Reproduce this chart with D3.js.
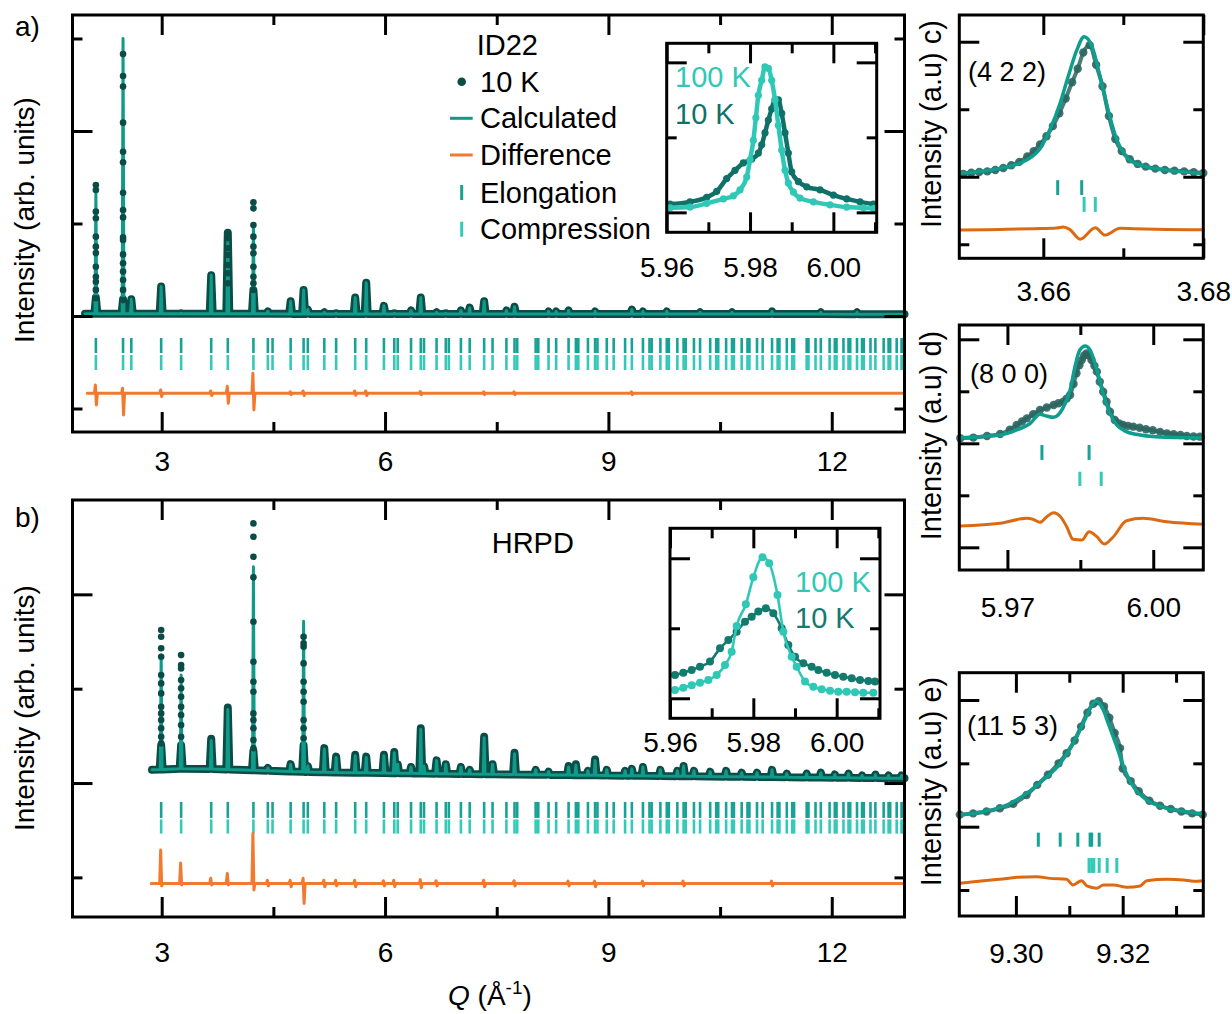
<!DOCTYPE html>
<html>
<head>
<meta charset="utf-8">
<script src="https://cdn.jsdelivr.net/npm/d3@7"></script>
<style>
  body { margin: 0; background: #fff; }
</style>
</head>
<body>
<svg id="fig" width="1232" height="1014"></svg>
<script>
const F = "'Liberation Sans', Arial, Helvetica, sans-serif";
const col = {
  obs: "#0b4d46", calc: "#0f9a89", diff: "#f07a30", diff2: "#dc6a12",
  elong: "#17a394", comp: "#36c9b7", hot: "#2fc8b6", cold: "#0f7168", dotS: "#2c6560"
};

// ---------- data ----------
// reflection positions (Q, 1/Å) – used for both tick rows in a) and b)
const reflQ = [2.116, 2.481, 2.592, 2.993, 3.261, 3.665, 3.888, 4.232, 4.426, 4.489, 4.732, 4.906, 4.963,
  5.184, 5.343, 5.599, 5.747, 5.985, 6.124, 6.170, 6.349, 6.480, 6.523, 6.692, 6.816, 6.857, 7.019, 7.137,
  7.331, 7.444, 7.630, 7.739, 7.775, 8.023, 8.058, 8.196, 8.298, 8.465, 8.563, 8.596, 8.725, 8.821, 8.853,
  8.978, 9.071, 9.224, 9.315, 9.464, 9.552, 9.581, 9.698, 9.784, 9.812, 9.926, 10.010, 10.038, 10.149,
  10.231, 10.367, 10.448, 10.475, 10.581, 10.660, 10.686, 10.790, 10.868, 10.894, 10.996, 11.072, 11.198,
  11.273, 11.297, 11.396, 11.469, 11.494, 11.663, 11.687, 11.782, 11.853, 11.971, 12.041, 12.064, 12.157,
  12.225, 12.248, 12.339, 12.407, 12.430, 12.520, 12.586, 12.697, 12.763, 12.785, 12.872, 12.937, 12.959];

// a) ID22, 10 K
const rangeA = [1.97, 12.977];
const bgAQ = [1.97, 12.977], bgAV = [0.012, 0.010];
const peakQA = [2.116, 2.481, 2.592, 2.993, 3.261, 3.665, 3.888, 4.232, 4.426, 4.732, 4.906, 4.963, 5.184,
  5.343, 5.599, 5.747, 5.985, 6.124, 6.349, 6.480, 6.692, 6.816, 7.019, 7.137, 7.331, 7.630, 7.739, 8.196,
  8.298, 8.465, 8.821, 9.315, 9.464, 9.784, 10.231, 10.660, 11.198, 11.853, 12.339];
const calcTopA = [0.67, 1.50, 0.09, 0.16, 0.015, 0.22, 0.44, 0.50, 0.025, 0.08, 0.14, 0.035, 0.02,
  0.015, 0.10, 0.18, 0.055, 0.015, 0.03, 0.10, 0.02, 0.015, 0.03, 0.045, 0.08, 0.03, 0.05, 0.025,
  0.025, 0.03, 0.025, 0.035, 0.025, 0.025, 0.02, 0.02, 0.025, 0.02, 0.02];
const obsTopA = [0.10, 0.09, 0.09, 0.16, 0.015, 0.22, 0.45, 0.14, 0.025, 0.08, 0.14, 0.035, 0.02,
  0.015, 0.10, 0.18, 0.055, 0.015, 0.03, 0.10, 0.02, 0.015, 0.03, 0.045, 0.08, 0.03, 0.05, 0.025,
  0.025, 0.03, 0.025, 0.035, 0.025, 0.025, 0.02, 0.02, 0.025, 0.02, 0.02];
const dotQA = [2.116, 2.481, 3.888, 4.232];
const dotVA = [
  [0.708, 0.681, 0.564, 0.528, 0.429, 0.375, 0.34, 0.266, 0.212, 0.185, 0.141, 0.096],
  [1.416, 1.297, 1.24, 1.045, 0.888, 0.831, 0.666, 0.573, 0.533, 0.425, 0.411, 0.333, 0.285, 0.24, 0.195, 0.141, 0.086],
  [0.447, 0.42, 0.366, 0.33, 0.276, 0.231, 0.177],
  [0.615, 0.582, 0.492, 0.429, 0.375, 0.339, 0.266, 0.212, 0.177, 0.141]];
const diffBaseA = -0.418;
const diffQA = [2.116, 2.481, 2.993, 3.665, 3.888, 4.232, 4.732, 4.906, 5.599, 5.747, 6.480, 7.331, 7.739, 9.315];
const diffUpA = [-0.373, -0.39, -0.40, -0.405, -0.38, -0.31, -0.41, -0.405, -0.405, -0.405, -0.408, -0.41, -0.41, -0.41];
const diffDnA = [-0.481, -0.535, -0.435, -0.43, -0.472, -0.508, -0.425, -0.43, -0.428, -0.43, -0.426, -0.425, -0.425, -0.425];

// b) HRPD
const rangeB = [2.87, 12.977];
const bgBQ = [2.87, 3.4, 5.0, 7.0, 8.5, 10.8, 12.977];
const bgBV = [0.07, 0.078, 0.058, 0.048, 0.042, 0.033, 0.025];
const peakQB = [2.993, 3.261, 3.665, 3.888, 4.232, 4.426, 4.732, 4.906, 4.963, 5.184, 5.343, 5.599, 5.747,
  5.985, 6.124, 6.170, 6.349, 6.480, 6.523, 6.692, 6.816, 7.019, 7.137, 7.331, 7.444, 7.739, 8.023, 8.196,
  8.465, 8.563, 8.725, 8.821, 8.978, 9.224, 9.315, 9.464, 9.698, 9.926, 10.010, 10.149, 10.367, 10.581,
  10.790, 10.996, 11.198, 11.396, 11.663, 11.853, 12.041, 12.225, 12.407, 12.586, 12.763, 12.937];
const calcTopB = [0.678, 0.572, 0.225, 0.39, 1.146, 0.08, 0.10, 0.858, 0.09, 0.18, 0.135, 0.145, 0.135,
  0.145, 0.16, 0.10, 0.085, 0.285, 0.09, 0.12, 0.10, 0.085, 0.07, 0.24, 0.10, 0.155, 0.07, 0.06,
  0.085, 0.095, 0.065, 0.12, 0.07, 0.065, 0.075, 0.085, 0.07, 0.065, 0.09, 0.065, 0.06, 0.065,
  0.055, 0.055, 0.07, 0.05, 0.05, 0.055, 0.045, 0.05, 0.04, 0.045, 0.04, 0.04];
const obsTopB = [0.20, 0.20, 0.235, 0.40, 0.17, 0.08, 0.10, 0.20, 0.09, 0.185, 0.14, 0.15, 0.14,
  0.15, 0.165, 0.10, 0.085, 0.29, 0.09, 0.12, 0.10, 0.085, 0.07, 0.245, 0.10, 0.16, 0.07, 0.06,
  0.09, 0.10, 0.065, 0.125, 0.07, 0.065, 0.075, 0.085, 0.07, 0.065, 0.09, 0.065, 0.06, 0.065,
  0.055, 0.055, 0.07, 0.05, 0.05, 0.055, 0.045, 0.05, 0.04, 0.045, 0.04, 0.04];
const dotQB = [2.993, 3.261, 4.232, 4.906];
const dotVB = [
  [0.811, 0.775, 0.714, 0.669, 0.572, 0.528, 0.475, 0.404, 0.369, 0.334, 0.29, 0.245, 0.21],
  [0.678, 0.625, 0.607, 0.546, 0.502, 0.457, 0.404, 0.36, 0.307, 0.245],
  [1.376, 1.305, 1.199, 1.09, 0.855, 0.643, 0.537, 0.484, 0.369, 0.334, 0.29, 0.228, 0.184],
  [0.775, 0.74, 0.722, 0.634, 0.537, 0.484, 0.431, 0.334, 0.29, 0.237]];
const diffBaseB = -0.532;
const diffQB = [2.993, 3.261, 3.665, 3.888, 4.232, 4.426, 4.732, 4.906, 5.184, 5.343, 5.599, 5.985, 6.124,
  6.480, 6.692, 7.331, 7.739, 8.465, 8.821, 9.464, 10.010, 11.198];
const diffUpB = [-0.355, -0.424, -0.505, -0.479, -0.267, -0.515, -0.515, -0.505, -0.515, -0.515, -0.515,
  -0.518, -0.515, -0.512, -0.518, -0.515, -0.518, -0.52, -0.52, -0.52, -0.52, -0.52];
const diffDnB = [-0.545, -0.54, -0.54, -0.54, -0.567, -0.545, -0.55, -0.638, -0.55, -0.545, -0.55,
  -0.545, -0.548, -0.555, -0.545, -0.55, -0.545, -0.545, -0.55, -0.545, -0.545, -0.545];

// insets: (8 0 0) at 100 K and 10 K
const aHotQ = [5.9608, 5.9656, 5.9696, 5.9736, 5.9760, 5.9776, 5.9792, 5.9800, 5.9808, 5.9814, 5.9820, 5.9828,
  5.9836, 5.9844, 5.9852, 5.9860, 5.9868, 5.9876, 5.9884, 5.9892, 5.9904, 5.9920, 5.9952, 5.9992, 6.0032, 6.0072, 6.0096];
const aHotV = [0.03, 0.035, 0.06, 0.09, 0.11, 0.15, 0.235, 0.35, 0.48, 0.63, 0.78, 0.88,
  0.97, 0.96, 0.88, 0.75, 0.58, 0.415, 0.28, 0.195, 0.135, 0.095, 0.07, 0.05, 0.035, 0.03, 0.025];
const aColdQ = [5.9608, 5.9656, 5.9696, 5.9720, 5.9744, 5.9764, 5.9784, 5.9804, 5.9820, 5.9828, 5.9836, 5.9844,
  5.9852, 5.9860, 5.9868, 5.9876, 5.9884, 5.9892, 5.9900, 5.9916, 5.9936, 5.9968, 6.0000, 6.0032, 6.0064, 6.0096];
const aColdV = [0.055, 0.07, 0.10, 0.14, 0.225, 0.28, 0.33, 0.355, 0.395, 0.45, 0.53, 0.615,
  0.69, 0.75, 0.75, 0.66, 0.53, 0.395, 0.27, 0.205, 0.17, 0.15, 0.115, 0.09, 0.07, 0.055];
const bHotQ = [5.9612, 5.9632, 5.9652, 5.9672, 5.9692, 5.9712, 5.9732, 5.9748, 5.9760, 5.9782, 5.9800, 5.9822,
  5.9838, 5.9858, 5.9872, 5.9892, 5.9904, 5.9924, 5.9944, 5.9964, 5.9984, 6.0004, 6.0024, 6.0044, 6.0064, 6.0088];
const bHotV = [0.059, 0.076, 0.093, 0.111, 0.131, 0.166, 0.238, 0.333, 0.516, 0.671, 0.864, 1.007,
  0.964, 0.738, 0.476, 0.297, 0.226, 0.119, 0.083, 0.064, 0.054, 0.047, 0.047, 0.043, 0.04, 0.04];
const bColdQ = [5.9612, 5.9632, 5.9652, 5.9672, 5.9696, 5.9720, 5.9740, 5.9760, 5.9780, 5.9796, 5.9812, 5.9830,
  5.9848, 5.9868, 5.9884, 5.9900, 5.9920, 5.9940, 5.9956, 5.9976, 5.9996, 6.0016, 6.0036, 6.0056, 6.0076, 6.0092];
const bColdV = [0.166, 0.183, 0.202, 0.226, 0.262, 0.357, 0.416, 0.476, 0.547, 0.583, 0.619, 0.643,
  0.607, 0.50, 0.381, 0.297, 0.25, 0.226, 0.202, 0.183, 0.166, 0.154, 0.143, 0.131, 0.124, 0.119];

// c) (4 2 2)
const cCalcQ = [3.6496, 3.6546, 3.6579, 3.6596, 3.6608, 3.6621, 3.6631, 3.6642, 3.6651, 3.6661, 3.6671, 3.6681,
  3.6692, 3.6704, 3.6721, 3.6754, 3.6800];
const cCalcV = [0.025, 0.062, 0.124, 0.21, 0.346, 0.544, 0.74, 0.94, 1.037, 0.963, 0.74, 0.494,
  0.272, 0.148, 0.087, 0.05, 0.025];
const cObsQ = [3.6500, 3.6510, 3.6520, 3.6530, 3.6540, 3.6550, 3.6560, 3.6570, 3.6580, 3.6588, 3.6596, 3.6604,
  3.6612, 3.6620, 3.6628, 3.6636, 3.6643, 3.6650, 3.6658, 3.6666, 3.6674, 3.6682, 3.6690, 3.6698, 3.6708,
  3.6718, 3.6728, 3.6740, 3.6752, 3.6764, 3.6776, 3.6788, 3.6800];
const cObsV = [0.02, 0.03, 0.035, 0.04, 0.05, 0.065, 0.085, 0.11, 0.15, 0.19, 0.24, 0.30,
  0.375, 0.47, 0.58, 0.70, 0.80, 0.92, 0.975, 0.83, 0.67, 0.45, 0.28, 0.19, 0.13,
  0.095, 0.075, 0.06, 0.05, 0.045, 0.04, 0.033, 0.028];
const cDiffQ = [3.6496, 3.6546, 3.6588, 3.6617, 3.6625, 3.6633, 3.6646, 3.6665, 3.6677, 3.6696, 3.6713, 3.6754, 3.6800];
const cDiffV = [-0.395, -0.39, -0.385, -0.38, -0.372, -0.39, -0.462, -0.378, -0.432, -0.382, -0.385, -0.39, -0.393];
const cElong = [3.6618, 3.6648], cComp = [3.6651, 3.6665];

// d) (8 0 0)
const dCalcQ = [5.9603, 5.9685, 5.9719, 5.9747, 5.9767, 5.9781, 5.9795, 5.9815, 5.9829, 5.9839, 5.9849, 5.9860,
  5.9870, 5.9884, 5.9897, 5.9911, 5.9925, 5.9945, 5.9973, 6.0028, 6.0103];
const dCalcV = [0.054, 0.08, 0.128, 0.192, 0.279, 0.262, 0.25, 0.346, 0.512, 0.737, 0.897, 0.935,
  0.897, 0.705, 0.48, 0.288, 0.176, 0.112, 0.08, 0.058, 0.054];
const dObsQ = [5.9603, 5.9630, 5.9658, 5.9685, 5.9705, 5.9719, 5.9730, 5.9740, 5.9753, 5.9767, 5.9781, 5.9795,
  5.9805, 5.9815, 5.9822, 5.9829, 5.9836, 5.9842, 5.9848, 5.9853, 5.9858, 5.9863, 5.9868, 5.9873, 5.9879,
  5.9884, 5.9890, 5.9897, 5.9904, 5.9911, 5.9921, 5.9930, 5.9938, 5.9948, 5.9959, 5.9972, 5.9985, 5.9999,
  6.0014, 6.0028, 6.0042, 6.0056, 6.0069, 6.0083, 6.0096];
const dObsV = [0.048, 0.055, 0.07, 0.089, 0.13, 0.176, 0.21, 0.24, 0.28, 0.32, 0.345, 0.368,
  0.385, 0.40, 0.43, 0.464, 0.57, 0.673, 0.75, 0.80, 0.845, 0.865, 0.845, 0.80, 0.745,
  0.689, 0.592, 0.496, 0.40, 0.304, 0.224, 0.19, 0.176, 0.168, 0.16, 0.15, 0.135, 0.125,
  0.11, 0.096, 0.088, 0.08, 0.07, 0.066, 0.064];
const dDiffQ = [5.9603, 5.9685, 5.9740, 5.9753, 5.9767, 5.9781, 5.9795, 5.9808, 5.9822, 5.9835, 5.9853, 5.9868,
  5.9884, 5.9899, 5.9918, 5.9945, 5.9979, 6.0028, 6.0103];
const dDiffV = [-0.795, -0.769, -0.721, -0.731, -0.76, -0.706, -0.667, -0.699, -0.802, -0.923, -0.93, -0.85,
  -0.898, -0.968, -0.898, -0.744, -0.721, -0.754, -0.779];
const dElong = [5.9771, 5.9868], dComp = [5.9849, 5.9893];

// e) (11 5 3)
const eCalcQ = [9.2895, 9.2939, 9.2983, 9.3020, 9.3051, 9.3083, 9.3107, 9.3126, 9.3139, 9.3150, 9.3161, 9.3173,
  9.3189, 9.3204, 9.3220, 9.3245, 9.3283, 9.3320, 9.3351];
const eCalcV = [0.092, 0.118, 0.171, 0.263, 0.369, 0.50, 0.658, 0.816, 0.934, 0.992, 0.947, 0.816,
  0.631, 0.447, 0.316, 0.211, 0.145, 0.118, 0.10];
const eObsQ = [9.2895, 9.2920, 9.2945, 9.2970, 9.2995, 9.3020, 9.3040, 9.3060, 9.3080, 9.3095, 9.3110, 9.3122,
  9.3134, 9.3145, 9.3155, 9.3165, 9.3175, 9.3185, 9.3195, 9.3200, 9.3215, 9.3230, 9.3250, 9.3270, 9.3290,
  9.3310, 9.3330, 9.3350];
const eObsV = [0.095, 0.105, 0.12, 0.145, 0.18, 0.25, 0.33, 0.41, 0.50, 0.58, 0.68, 0.79,
  0.90, 0.97, 0.99, 0.95, 0.86, 0.74, 0.62, 0.46, 0.36, 0.28, 0.205, 0.165, 0.14,
  0.12, 0.105, 0.095];
const eDiffQ = [9.2895, 9.2939, 9.2970, 9.3002, 9.3039, 9.3064, 9.3095, 9.3107, 9.3123, 9.3133, 9.3151, 9.3164,
  9.3183, 9.3208, 9.3233, 9.3245, 9.3283, 9.3314, 9.3333, 9.3351];
const eDiffV = [-0.447, -0.426, -0.415, -0.40, -0.395, -0.408, -0.415, -0.46, -0.426, -0.468, -0.486, -0.46,
  -0.46, -0.479, -0.468, -0.426, -0.415, -0.42, -0.431, -0.426];
const eElong = [9.3042, 9.3083, 9.3116, 9.3139, 9.3142, 9.3156];
const eComp = [9.3137, 9.3142, 9.3146, 9.3156, 9.3171, 9.3189];

const legendLabels = ["10 K", "Calculated", "Difference", "Elongation", "Compression"];

// ---------- helpers ----------
const svg = d3.select("#fig").attr("font-family", F);
const zip = (a, b) => a.map((d, i) => [d, b[i]]);
const lineOf = (x, y, curve) => d3.line().x(d => x(d[0])).y(d => y(d[1])).curve(curve || d3.curveLinear);

function axes(x, y, o) {
  const g = svg.append("g");
  const [X0, X1] = x.range(), [Y1, Y0] = y.range();
  const blank = () => "";
  const add = (ax, tr) => {
    const a = g.append("g").attr("transform", tr).call(ax);
    a.select(".domain").remove();
    a.attr("font-family", F).attr("font-size", 28);
    a.selectAll("line").attr("stroke", "#000").attr("stroke-width", 3);
    a.selectAll("text").attr("fill", "#000");
  };
  add(d3.axisBottom(x).tickValues(o.xMaj).tickSize(-20).tickPadding(o.pad).tickFormat(o.fmt), `translate(0,${Y1})`);
  add(d3.axisBottom(x).tickValues(o.xMin).tickSize(-10).tickFormat(blank), `translate(0,${Y1})`);
  add(d3.axisTop(x).tickValues(o.xMaj).tickSize(-20).tickFormat(blank), `translate(0,${Y0})`);
  add(d3.axisTop(x).tickValues(o.xMin).tickSize(-10).tickFormat(blank), `translate(0,${Y0})`);
  add(d3.axisLeft(y).tickValues(o.yMaj).tickSize(-20).tickFormat(blank), `translate(${X0},0)`);
  add(d3.axisLeft(y).tickValues(o.yMin).tickSize(-10).tickFormat(blank), `translate(${X0},0)`);
  add(d3.axisRight(y).tickValues(o.yMaj).tickSize(-20).tickFormat(blank), `translate(${X1},0)`);
  add(d3.axisRight(y).tickValues(o.yMin).tickSize(-10).tickFormat(blank), `translate(${X1},0)`);
  g.append("rect").attr("x", X0).attr("y", Y0).attr("width", X1 - X0).attr("height", Y1 - Y0)
    .attr("fill", "none").attr("stroke", "#000").attr("stroke-width", 3);
}

function whiteBox(x, y) {
  const [X0, X1] = x.range(), [Y1, Y0] = y.range();
  svg.append("rect").attr("x", X0).attr("y", Y0).attr("width", X1 - X0).attr("height", Y1 - Y0).attr("fill", "#fff");
}

// peak list -> polyline (narrow spikes on a background)
function spikes(qs, tops, bg, hw, r) {
  const pts = [[r[0], bg(r[0])]];
  qs.forEach((q, i) => pts.push([q - hw, bg(q - hw)], [q, tops[i]], [q + hw, bg(q + hw)]));
  pts.push([r[1], bg(r[1])]);
  return pts;
}
function diffSpikes(qs, up, dn, base, hw, r) {
  const pts = [[r[0], base]];
  qs.forEach((q, i) => pts.push([q - hw, base], [q - hw / 3, up[i]], [q + hw / 3, dn[i]], [q + hw, base]));
  pts.push([r[1], base]);
  return pts;
}
function rows(x, y, qs, v0, v1, color, w) {
  svg.append("g").selectAll("line").data(qs).join("line")
    .attr("x1", d => x(d)).attr("x2", d => x(d)).attr("y1", y(v0)).attr("y2", y(v1))
    .attr("stroke", color).attr("stroke-width", w);
}
function path(pts, x, y, color, w, curve, extra) {
  const p = svg.append("path").datum(pts).attr("d", lineOf(x, y, curve)).attr("fill", "none")
    .attr("stroke", color).attr("stroke-width", w).attr("stroke-linejoin", "round").attr("stroke-linecap", "round");
  if (extra) extra(p);
  return p;
}
function dots(pts, x, y, color, r, op) {
  svg.append("g").selectAll("circle").data(pts).join("circle")
    .attr("cx", d => x(d[0])).attr("cy", d => y(d[1])).attr("r", r).attr("fill", color)
    .attr("fill-opacity", op || 1);
}
function text(str, x, y, o) {
  const t = svg.append("text").attr("x", x).attr("y", y).attr("font-size", (o && o.fs) || 28)
    .attr("fill", (o && o.fill) || "#000").text(str);
  if (o && o.anchor) t.attr("text-anchor", o.anchor);
  if (o && o.rot) t.attr("transform", `rotate(-90,${x},${y})`);
  return t;
}

// ---------- main panels ----------
const X = d3.scaleLinear().domain([1.802, 12.977]).range([72.5, 904.5]);
const yA = d3.scaleLinear().domain([-0.627, 1.627]).range([432, 15]);
const yB = d3.scaleLinear().domain([-0.71, 1.50]).range([917, 500]);
const mainTicks = { xMaj: [3, 6, 9, 12], xMin: [4.5, 7.5, 10.5], fmt: d3.format("d") };

function mainPanel(y, o) {
  rows(X, y, o.refl, o.rowE[0], o.rowE[1], col.elong, 2.6);
  rows(X, y, o.refl, o.rowC[0], o.rowC[1], col.comp, 2.6);
  path(diffSpikes(o.dQ, o.dUp, o.dDn, o.dBase, 0.02, o.dRange), X, y, col.diff, 3);
  path(spikes(o.pQ, o.oTop, o.bg, 0.02, o.range), X, y, col.obs, 8);
  path(spikes(o.pQ, o.cTop, o.bg, 0.012, o.range), X, y, col.calc, 3);
  o.dotQ.forEach((q, i) => dots(o.dotV[i].map(v => [q, v]), X, y, col.obs, 3.3));
}

mainPanel(yA, {
  refl: reflQ, rowE: [-0.119, -0.200], rowC: [-0.211, -0.292],
  dQ: diffQA, dUp: diffUpA, dDn: diffDnA, dBase: diffBaseA, dRange: [2.0, 12.977],
  pQ: peakQA, oTop: obsTopA, cTop: calcTopA, bg: d3.scaleLinear().domain(bgAQ).range(bgAV), range: rangeA,
  dotQ: dotQA, dotV: dotVA
});
mainPanel(yB, {
  refl: reflQ.filter(q => q > 2.9), rowE: [-0.10, -0.185], rowC: [-0.193, -0.268],
  dQ: diffQB, dUp: diffUpB, dDn: diffDnB, dBase: diffBaseB, dRange: [2.86, 12.977],
  pQ: peakQB, oTop: obsTopB, cTop: calcTopB, bg: d3.scaleLinear().domain(bgBQ).range(bgBV), range: rangeB,
  dotQ: dotQB, dotV: dotVB
});
axes(X, yA, { ...mainTicks, yMaj: [0, 1], yMin: [-0.5, 0.5, 1.5], pad: 19 });
axes(X, yB, { ...mainTicks, yMaj: [0, 1], yMin: [-0.5, 0.5], pad: 25 });

// legend a)
text("ID22", 476.7, 55, { fs: 29 });
const legY = [91.7, 128.3, 165, 202.7, 239.3];
legendLabels.forEach((s, i) => text(s, 480, legY[i], { fs: 29 }));
svg.append("circle").attr("cx", 461.7).attr("cy", 81.7).attr("r", 4.3).attr("fill", col.obs);
svg.append("line").attr("x1", 450).attr("x2", 472.7).attr("y1", 118.3).attr("y2", 118.3).attr("stroke", col.calc).attr("stroke-width", 3);
svg.append("line").attr("x1", 450).attr("x2", 472.7).attr("y1", 155).attr("y2", 155).attr("stroke", col.diff).attr("stroke-width", 3);
svg.append("line").attr("x1", 461.7).attr("x2", 461.7).attr("y1", 185).attr("y2", 200).attr("stroke", col.elong).attr("stroke-width", 3);
svg.append("line").attr("x1", 461.7).attr("x2", 461.7).attr("y1", 221.7).attr("y2", 236.7).attr("stroke", col.comp).attr("stroke-width", 3);
text("HRPD", 491.7, 553.3, { fs: 29 });

// insets
const insetTicks = { xMaj: [5.96, 5.98, 6.00], xMin: [5.97, 5.99, 6.01], yMaj: [0, 1], yMin: [0.5], fmt: d3.format(".2f") };
const xIa = d3.scaleLinear().domain([5.96, 6.0104]).range([666.7, 876.7]);
const yIa = d3.scaleLinear().domain([-0.133, 1.127]).range([232.3, 43.3]);
whiteBox(xIa, yIa);
path(zip(aColdQ, aColdV), xIa, yIa, col.cold, 4.5, d3.curveMonotoneX);
dots(zip(aColdQ, aColdV), xIa, yIa, col.cold, 3.6);
path(zip(aHotQ, aHotV), xIa, yIa, col.hot, 4.5, d3.curveMonotoneX);
dots(zip(aHotQ, aHotV), xIa, yIa, col.hot, 3.6);
axes(xIa, yIa, { ...insetTicks, pad: 25 });
text("100 K", 675, 87.3, { fs: 29, fill: col.hot });
text("10 K", 675, 124, { fs: 29, fill: col.cold });

const xIb = d3.scaleLinear().domain([5.96, 6.0104]).range([670, 880]);
const yIb = d3.scaleLinear().domain([-0.143, 1.214]).range([718.3, 528.3]);
whiteBox(xIb, yIb);
path(zip(bColdQ, bColdV), xIb, yIb, "#137a6e", 2.6, d3.curveMonotoneX);
dots(zip(bColdQ, bColdV), xIb, yIb, "#137a6e", 4);
path(zip(bHotQ, bHotV), xIb, yIb, col.hot, 2.6, d3.curveMonotoneX);
dots(zip(bHotQ, bHotV), xIb, yIb, col.hot, 4);
axes(xIb, yIb, { ...insetTicks, pad: 14 });
text("100 K", 795, 591.7, { fs: 29, fill: col.hot });
text("10 K", 795, 627.7, { fs: 29, fill: "#137a6e" });

// ---------- small panels c) d) e) ----------
function zoomPanel(x, y, o) {
  rows(x, y, o.elong, o.rowE[0], o.rowE[1], col.elong, 3);
  rows(x, y, o.comp, o.rowC[0], o.rowC[1], col.comp, 3);
  path(zip(o.dQ, o.dV), x, y, col.diff2, 3, d3.curveMonotoneX);
  const obs = zip(o.oQ, o.oV);
  path(obs, x, y, col.dotS, 4, d3.curveMonotoneX, p => p.attr("stroke-opacity", 0.85));
  dots(obs, x, y, col.dotS, 4.2, 0.9);
  path(zip(o.cQ, o.cV), x, y, "#0e9e8e", 3.5, d3.curveMonotoneX);
  axes(x, y, { ...o.ticks, fmt: d3.format(".2f") });
}

const xc = d3.scaleLinear().domain([3.6495, 3.68]).range([959.3, 1203.3]);
const yc = d3.scaleLinear().domain([-0.604, 1.198]).range([258.3, 15]);
zoomPanel(xc, yc, {
  elong: cElong, comp: cComp, rowE: [-0.025, -0.135], rowC: [-0.15, -0.26],
  dQ: cDiffQ, dV: cDiffV, oQ: cObsQ, oV: cObsV, cQ: cCalcQ, cV: cCalcV,
  ticks: { xMaj: [3.66, 3.68], xMin: [3.67], yMaj: [0, 1], yMin: [-0.5, 0.5], pad: 23 }
});
const xd = d3.scaleLinear().domain([5.9601, 6.0103]).range([959.3, 1203.3]);
const yd = d3.scaleLinear().domain([-1.218, 1.1375]).range([570, 325]);
zoomPanel(xd, yd, {
  elong: dElong, comp: dComp, rowE: [-0.016, -0.16], rowC: [-0.273, -0.41],
  dQ: dDiffQ, dV: dDiffV, oQ: dObsQ, oV: dObsV, cQ: dCalcQ, cV: dCalcV,
  ticks: { xMaj: [5.97, 6.00], xMin: [5.985], yMaj: [-1, 0, 1], yMin: [-0.5, 0.5], pad: 27 }
});
const xe = d3.scaleLinear().domain([9.2894, 9.3351]).range([959.3, 1203.3]);
const ye = d3.scaleLinear().domain([-0.705, 1.2155]).range([916, 672.7]);
zoomPanel(xe, ye, {
  elong: eElong, comp: eComp, rowE: [-0.047, -0.158], rowC: [-0.247, -0.365],
  dQ: eDiffQ, dV: eDiffV, oQ: eObsQ, oV: eObsV, cQ: eCalcQ, cV: eCalcV,
  ticks: { xMaj: [9.30, 9.32], xMin: [9.31, 9.33], yMaj: [0, 1], yMin: [-0.5, 0.5], pad: 27 }
});
text("(4 2 2)", 968, 81, { fs: 27 });
text("(8 0 0)", 970, 382.7, { fs: 27 });
text("(11 5 3)", 967, 735, { fs: 27 });

// ---------- titles ----------
text("a)", 15, 36);
text("b)", 15, 527);
text("Intensity (arb. units)", 34, 220, { rot: true, anchor: "middle" });
text("Intensity (arb. units)", 34, 708, { rot: true, anchor: "middle" });
text("Intensity (a.u) c)", 940.5, 124, { rot: true, anchor: "middle", fs: 29 });
text("Intensity (a.u) d)", 940.5, 435.5, { rot: true, anchor: "middle", fs: 29 });
text("Intensity (a.u) e)", 940.5, 781.5, { rot: true, anchor: "middle", fs: 29 });

const ql = svg.append("text").attr("x", 448).attr("y", 1005).attr("font-size", 28);
ql.append("tspan").attr("font-style", "italic").text("Q");
ql.append("tspan").text(" (Å");
ql.append("tspan").attr("font-size", 19).attr("dy", -11).text("-1");
ql.append("tspan").attr("dy", 11).text(")");
</script>
</body>
</html>
